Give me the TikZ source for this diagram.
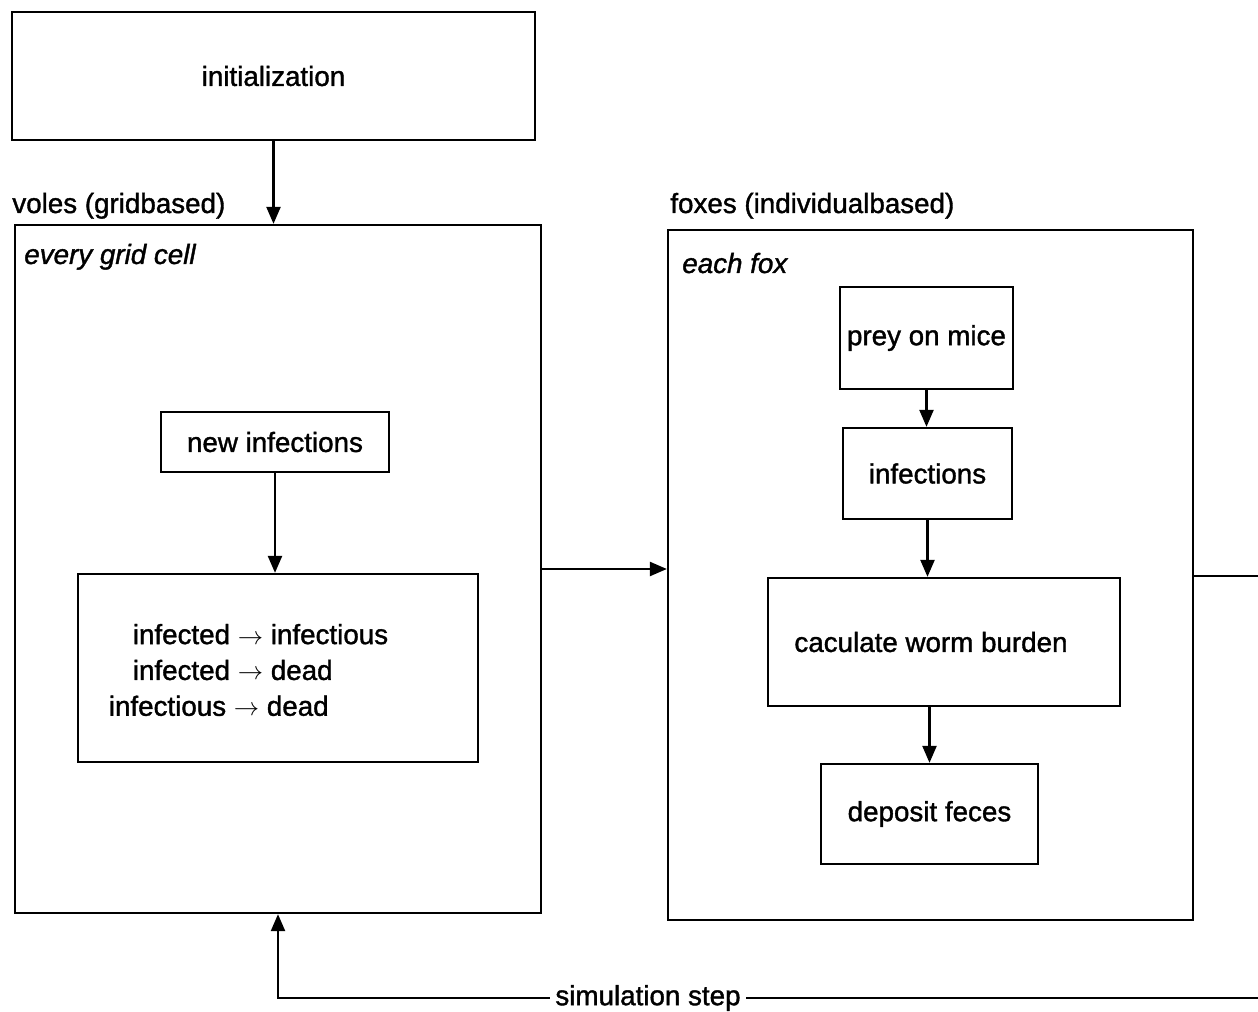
\documentclass[tikz,border=0pt]{standalone}
\usepackage{fontspec}
\setmainfont[FakeBold=1.3]{Liberation Sans}
\usepackage{tikz}
\usetikzlibrary{arrows.meta,positioning,calc}
\newcommand{\diagfont}{\fontsize{15.8pt}{20.4pt}\selectfont}

\begin{document}
\begin{tikzpicture}[font=\diagfont,
        block/.style={rectangle, draw, line width=1.3pt, inner sep=0pt, align=center},
        arrow/.style={-{Triangle[length=0.34cm, width=0.28cm]}, line width=1.3pt},
        line/.style={line width=1.3pt},
        tag/.style={anchor=base west, inner sep=0pt}
    ]
        \useasboundingbox (0,0) rectangle (25.16,-20.24);

        % start
        \node[block, minimum width=10.46cm, minimum height=2.56cm] (init) at (5.47,-1.52) {initialization};

        % voles part
        \node[block, minimum width=10.52cm, minimum height=13.76cm] (voles) at (5.56,-11.38) {};
        \node[tag] (voleslabel) at (0.24,-4.26) {voles (gridbased)};
        \node[tag] (volescell) at (0.48,-5.28) {\itshape every grid cell};
        \node[block, minimum width=4.56cm, minimum height=1.2cm] (newinf) at (5.5,-8.84) {new infections};
        \node[block, minimum width=8cm, minimum height=3.76cm] (states) at (5.56,-13.36) {};
        \node[inner sep=0pt, align=left] (statestext) at (4.97,-13.4) {\hspace*{0.48cm}infected $\rightarrow$ infectious\\ \hspace*{0.48cm}infected $\rightarrow$ dead\\ infectious $\rightarrow$ dead};

        % foxes part
        \node[block, minimum width=10.5cm, minimum height=13.8cm] (foxes) at (18.61,-11.5) {};
        \node[tag] (foxeslabel) at (13.4,-4.26) {foxes (individualbased)};
        \node[tag] (foxeach) at (13.64,-5.46) {\itshape each fox};
        \node[block, minimum width=3.46cm, minimum height=2.04cm] (prey) at (18.53,-6.76) {prey on mice};
        \node[block, minimum width=3.38cm, minimum height=1.82cm] (infect) at (18.55,-9.47) {infections};
        \node[block, minimum width=7.04cm, minimum height=2.56cm] (worm) at (18.88,-12.84) {\hspace*{-0.52cm}caculate worm burden};
        \node[block, minimum width=4.34cm, minimum height=2cm] (feces) at (18.59,-16.28) {deposit feces};

        % loop back
        \coordinate (outright) at (25.16,-11.52);
        \coordinate (backright) at (25.16,-19.96);
        \node[fill=white, inner sep=3pt] (simstep) at (12.96,-19.96) {simulation step};

        \draw[arrow] (init.south) -- (init.south |- voles.north);
        \draw[arrow] (newinf.south) -- (newinf.south |- states.north);
        \draw[arrow] (voles.east) -- (voles.east -| foxes.west);
        \draw[arrow] (prey.south) -- (prey.south |- infect.north);
        \draw[arrow] (infect.south) -- (infect.south |- worm.north);
        \draw[arrow] (feces.north |- worm.south) -- (feces.north);
        \draw[line] (foxes.east |- outright) -- (outright);
        \draw[line] (backright) -- (simstep.east);
        \draw[arrow] (simstep.west) -| (voles.south);
    \end{tikzpicture}
\end{document}
